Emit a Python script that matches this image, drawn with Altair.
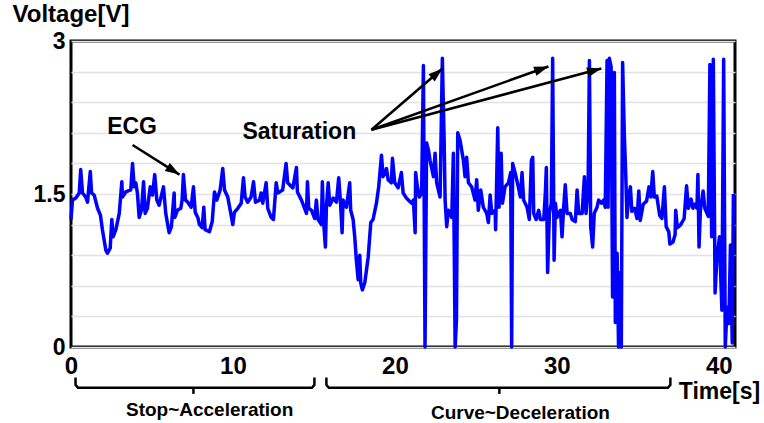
import math
import altair as alt
import pandas as pd

# ---------------- data ----------------
time_s = [
    0.00, 0.09, 0.30, 0.51, 0.60, 0.71, 0.91, 1.02, 1.19, 1.27, 1.43, 1.64, 1.82, 1.94, 2.15, 2.25,
    2.42, 2.52, 2.60, 2.77, 2.98, 3.14, 3.18, 3.38, 3.69, 3.80, 3.90, 4.00, 4.10, 4.21, 4.35, 4.48,
    4.58, 4.72, 4.89, 5.03, 5.17, 5.30, 5.44, 5.71, 5.85, 6.06, 6.20, 6.37, 6.41, 6.57, 6.78, 6.86,
    6.94, 7.07, 7.21, 7.42, 7.56, 7.67, 7.83, 7.93, 8.10, 8.20, 8.28, 8.55, 8.72, 8.86, 9.00, 9.21,
    9.37, 9.48, 9.68, 9.89, 9.99, 10.09, 10.30, 10.51, 10.65, 10.75, 10.91, 11.12, 11.27, 11.39,
    11.64, 11.74, 11.84, 12.05, 12.15, 12.36, 12.50, 12.67, 12.77, 13.07, 13.28, 13.38, 13.70,
    13.92, 13.98, 14.23, 14.40, 14.54, 14.60, 14.68, 14.85, 15.05, 15.15, 15.26, 15.46, 15.52,
    15.60, 15.71, 15.77, 15.88, 15.98, 16.19, 16.39, 16.53, 16.64, 16.74, 16.80, 17.01, 17.21,
    17.27, 17.42, 17.52, 17.62, 17.73, 17.83, 17.89, 17.99, 18.14, 18.35, 18.51, 18.65, 18.86,
    19.00, 19.17, 19.27, 19.48, 19.58, 19.78, 19.85, 19.99, 20.20, 20.40, 20.51, 20.71, 20.83,
    21.04, 21.14, 21.25, 21.28, 21.39, 21.51, 21.65, 21.76, 21.86, 21.96, 22.07, 22.17, 22.38,
    22.48, 22.58, 22.79, 22.93, 23.04, 23.10, 23.20, 23.30, 23.51, 23.61, 23.72, 23.80, 23.88,
    24.02, 24.23, 24.33, 24.43, 24.54, 24.74, 24.95, 25.05, 25.15, 25.30, 25.46, 25.67, 25.77,
    25.88, 25.98, 26.19, 26.22, 26.35, 26.43, 26.56, 26.64, 26.80, 27.01, 27.15, 27.21, 27.27,
    27.42, 27.62, 27.75, 27.85, 27.95, 28.16, 28.30, 28.43, 28.51, 28.57, 28.72, 28.88, 28.98,
    29.19, 29.29, 29.35, 29.43, 29.54, 29.66, 29.74, 29.83, 29.91, 30.01, 30.11, 30.22, 30.32,
    30.42, 30.52, 30.63, 30.83, 30.94, 31.14, 31.25, 31.35, 31.56, 31.70, 31.80, 31.93, 32.01,
    32.09, 32.21, 32.31, 32.48, 32.58, 32.75, 32.89, 32.99, 33.10, 33.16, 33.24, 33.35, 33.44,
    33.55, 33.61, 33.72, 33.81, 33.92, 33.98, 34.06, 34.17, 34.25, 34.33, 34.43, 34.54, 34.63,
    34.80, 34.95, 35.06, 35.15, 35.33, 35.54, 35.69, 35.80, 35.92, 36.02, 36.17, 36.35, 36.49,
    36.64, 36.75, 36.91, 36.98, 37.17, 37.30, 37.34, 37.44, 37.65, 37.86, 38.01, 38.12, 38.29,
    38.40, 38.54, 38.65, 38.71, 38.78, 38.86, 39.03, 39.14, 39.35, 39.45, 39.56, 39.66, 39.77,
    39.88, 40.04, 40.19, 40.30, 40.40, 40.51, 40.62, 40.72, 40.83, 40.90,
]
voltage_v = [
    1.25, 1.44, 1.46, 1.51, 1.74, 1.51, 1.47, 1.42, 1.72, 1.51, 1.49, 1.36, 1.29, 1.15, 0.95, 0.92,
    0.97, 1.25, 1.08, 1.15, 1.31, 1.62, 1.47, 1.52, 1.54, 1.80, 1.57, 1.61, 1.51, 1.27, 1.34, 1.62,
    1.31, 1.36, 1.57, 1.49, 1.69, 1.44, 1.39, 1.57, 1.31, 1.12, 1.18, 1.51, 1.27, 1.34, 1.36, 1.44,
    1.69, 1.44, 1.42, 1.37, 1.57, 1.32, 1.27, 1.20, 1.17, 1.37, 1.15, 1.13, 1.23, 1.52, 1.44, 1.54,
    1.75, 1.54, 1.47, 1.29, 1.20, 1.32, 1.36, 1.41, 1.66, 1.47, 1.42, 1.47, 1.62, 1.42,
    1.44, 1.51, 1.41, 1.61, 1.36, 1.27, 1.25, 1.61, 1.51, 1.54, 1.80, 1.61, 1.56,
    1.76, 1.52, 1.44, 1.37, 1.31, 1.62, 1.36, 1.34, 1.26, 1.44, 1.25, 1.20, 1.62,
    1.22, 0.98, 1.37, 1.61, 1.39, 1.46, 1.42, 1.66, 1.42, 1.12, 1.44, 1.37, 1.61,
    1.34, 1.25, 1.08, 0.85, 0.66, 0.90, 0.63, 0.56, 0.63, 0.88, 1.22, 1.25, 1.41,
    1.57, 1.88, 1.67, 1.75, 1.64, 1.61, 1.85, 1.61, 1.56, 1.71, 1.51, 1.46, 1.44,
    1.41, 1.44, 1.12, 1.71, 1.57, 1.47, 1.51, 2.76, 0.00, 2.00, 1.93, 1.83, 1.67,
    1.90, 1.61, 1.47, 2.83, 2.03, 1.44, 1.18, 1.34, 1.27, 1.90, 0.00, 0.26, 2.10,
    2.03, 1.83, 1.67, 1.86, 1.61, 1.57, 1.44, 1.64, 1.34, 1.54, 1.37, 1.31, 1.22,
    1.49, 1.31, 1.34, 1.15, 2.15, 1.37, 1.90, 1.41, 1.57, 1.61, 1.71, 0.00, 1.80,
    1.71, 1.57, 1.47, 1.71, 1.44, 1.37, 1.25, 1.83, 1.86, 1.31, 1.25, 1.34, 1.25,
    1.25, 1.51, 1.76, 0.73, 1.31, 1.41, 2.83, 0.85, 1.41, 1.27, 1.31, 1.34, 1.08,
    1.37, 1.59, 1.31, 1.31, 1.25, 1.23, 1.54, 1.31, 1.31, 1.67, 1.31, 1.57, 2.81,
    1.18, 0.98, 1.31, 1.37, 1.44, 1.41, 1.44, 1.37, 2.81, 1.37, 2.83, 2.75, 0.49,
    2.69, 0.24, 0.92, 0.00, 0.73, 0.00, 2.79, 2.06, 1.71, 1.27, 1.47, 1.57, 1.33,
    1.36, 1.26, 1.53, 1.24, 1.40, 1.43, 1.57, 1.47, 1.72, 1.47, 1.48, 1.29, 1.26,
    1.57, 1.18, 1.13, 1.01, 1.03, 1.10, 1.34, 1.17, 1.20, 1.26, 1.58, 1.36, 1.45,
    1.36, 1.40, 1.36, 1.69, 0.98, 1.33, 1.53, 1.36, 1.28, 2.77, 1.08, 2.82, 0.53,
    0.86, 1.08, 0.36, 2.82, 0.00, 0.39, 0.23, 1.00, 0.04, 1.50,
]

x_tick_values = [0, 10, 20, 30, 40]
y_tick_values = [0, 0.3, 0.6, 0.9, 1.2, 1.5, 1.8, 2.1, 2.4, 2.7, 3]
y_label_values = [0, 1.5, 3]
y_label_texts = ["0", "1.5", "3"]

# annotations (data coordinates)
note_texts = ["ECG", "Saturation"]
note_t = [3.77, 14.10]
note_v = [2.16, 2.11]

arrow_start_t = [3.80, 18.55, 18.55, 18.55]
arrow_start_v = [1.98, 2.13, 2.13, 2.13]
arrow_end_t = [6.70, 22.94, 29.48, 32.75]
arrow_end_v = [1.69, 2.73, 2.75, 2.73]

brace_names = ["Stop~Acceleration", "Curve~Deceleration"]
brace_start_t = [0.28, 15.77]
brace_end_t = [15.03, 37.01]
brace_mid_t = [7.56, 26.45]
brace_label_t = [8.56, 27.75]
brace_label_v = [-0.62, -0.65]
brace_top_v = -0.30
brace_line_v = -0.40
brace_tip_v = -0.46

# ---------------- layout ----------------
W, H = 664, 306
X_MAX, Y_MAX = 41, 3
FONT = "Liberation Sans"

x_scale = alt.Scale(domain=[0, X_MAX], nice=False, zero=False)
y_scale = alt.Scale(domain=[0, Y_MAX], nice=False, zero=False)

label_expr = " : ".join(
    f"datum.value == {v} ? '{s}'" for v, s in zip(y_label_values, y_label_texts)
) + " : ''"

x_enc = alt.X(
    "t:Q", scale=x_scale,
    axis=alt.Axis(
        values=x_tick_values, title="Time[s]", grid=False, ticks=False, domain=False,
        labelFont=FONT, labelFontSize=24, labelFontWeight="bold", labelColor="black",
        labelPadding=7, labelFlush=False,
        titleFont=FONT, titleFontSize=23, titleFontWeight="bold", titleColor="black",
        titleX=648, titleY=44, titleAlign="center", titleBaseline="middle",
    ),
)
y_enc = alt.Y(
    "v:Q", scale=y_scale,
    axis=alt.Axis(
        values=y_tick_values, labelExpr=label_expr, title="Voltage[V]",
        grid=True, gridColor="#e2e2e2", gridWidth=1.5, ticks=False, domain=False,
        labelFont=FONT, labelFontSize=23, labelFontWeight="bold", labelColor="black",
        labelPadding=6,
        titleFont=FONT, titleFontSize=24, titleFontWeight="bold", titleColor="black",
        titleAngle=0, titleX=-59, titleY=-27, titleAlign="left", titleBaseline="middle",
    ),
)

trace_df = pd.DataFrame({"t": time_s, "v": voltage_v, "idx": list(range(len(time_s)))})

trace = alt.Chart(trace_df).mark_line(color="#0000FF", strokeWidth=3.5, strokeJoin="round").encode(
    order=alt.Order("idx:Q"),
)

# arrows
px_t = W / X_MAX
px_v = H / Y_MAX
arrow_rows = []
head_rows = []
for i, (t0, v0, t1, v1) in enumerate(zip(arrow_start_t, arrow_start_v, arrow_end_t, arrow_end_v)):
    arrow_rows.append({"t": t0, "v": v0, "g": i, "o": 0})
    arrow_rows.append({"t": t1, "v": v1, "g": i, "o": 1})
    dx = (t1 - t0) * px_t
    dy = -(v1 - v0) * px_v
    ang = math.degrees(math.atan2(dx, -dy)) % 360
    head_rows.append({"t": t1, "v": v1, "ang": ang})

arrow_lines = alt.Chart(pd.DataFrame(arrow_rows)).mark_line(color="black", strokeWidth=2.5).encode(
    detail="g:N",
    order="o:Q",
)
arrow_heads = alt.Chart(pd.DataFrame(head_rows)).mark_point(
    shape="M0,0L-0.6,1.8L0.6,1.8Z", filled=True, color="black", opacity=1, size=256, strokeWidth=0
).encode(
    angle=alt.Angle("ang:Q", scale=None),
)

notes = alt.Chart(pd.DataFrame({"t": note_t, "v": note_v, "txt": note_texts})).mark_text(
    font=FONT, fontSize=23, fontWeight="bold", color="black", align="center", baseline="middle"
).encode(
    text="txt:N",
)

# braces
brace_rows = []
for i, (a, b, m) in enumerate(zip(brace_start_t, brace_end_t, brace_mid_t)):
    pts = [
        (a, brace_top_v), (a, brace_line_v + 0.03), (a + 0.15, brace_line_v),
        (b - 0.15, brace_line_v), (b, brace_line_v + 0.03), (b, brace_top_v),
    ]
    for k, (tt, vv) in enumerate(pts):
        brace_rows.append({"t": tt, "v": vv, "g": f"b{i}", "o": k})
    brace_rows.append({"t": m, "v": brace_line_v, "g": f"m{i}", "o": 0})
    brace_rows.append({"t": m, "v": brace_tip_v, "g": f"m{i}", "o": 1})

braces = alt.Chart(pd.DataFrame(brace_rows)).mark_line(color="black", strokeWidth=2.5).encode(
    detail="g:N",
    order="o:Q",
)
brace_labels = alt.Chart(
    pd.DataFrame({"t": brace_label_t, "v": brace_label_v, "txt": brace_names})
).mark_text(
    font=FONT, fontSize=19, fontWeight="bold", color="black", align="center", baseline="middle"
).encode(
    text="txt:N",
)

chart = alt.layer(trace, arrow_lines, arrow_heads, notes, braces, brace_labels).encode(
    x=x_enc, y=y_enc,
).properties(
    width=W, height=H,
    padding={"left": 71, "top": 41, "right": 29, "bottom": 76},
    autosize="none",
    background="white",
).configure_view(stroke="black", strokeWidth=3)

chart.save("out.html", embed_options={"renderer": "svg", "actions": False})
